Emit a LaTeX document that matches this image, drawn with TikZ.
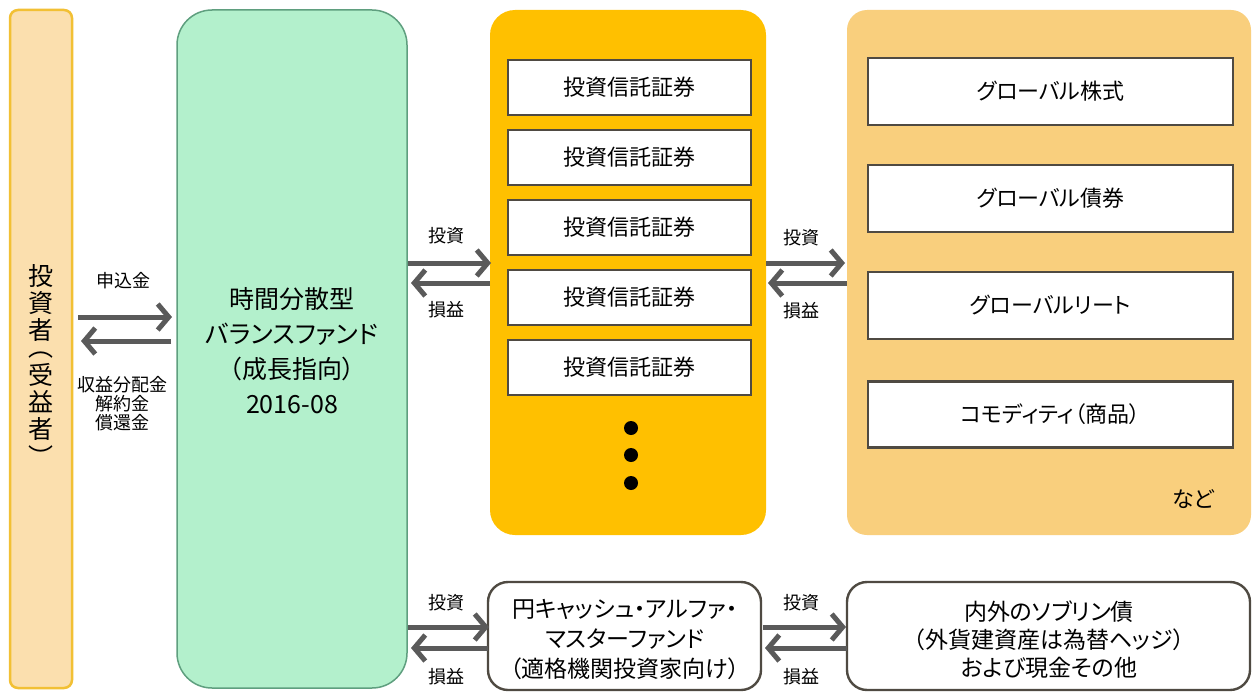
\documentclass[tikz,border=0pt]{standalone}
\usepackage{fontspec}
\setmainfont{Noto Sans CJK JP}[RawFeature=+palt]
\usetikzlibrary{arrows.meta}
\definecolor{invfill}{HTML}{FBDFAE}
\definecolor{invdraw}{HTML}{F2C034}
\definecolor{grfill}{HTML}{B3F0CC}
\definecolor{grdraw}{HTML}{5F9F7F}
\definecolor{orfill}{HTML}{FFC000}
\definecolor{ltor}{HTML}{F9CF7D}
\definecolor{bxdraw}{HTML}{4F4A42}
\definecolor{argray}{HTML}{5A5A5A}
\begin{document}
\begin{tikzpicture}[x=1pt,y=-1pt,
  panel/.style={anchor=north west,inner sep=0pt,outer sep=0pt},
  itembox/.style={draw=bxdraw,line width=2.6pt,fill=white,minimum width=#1,minimum height=55pt,inner sep=0pt,font=\fontsize{22}{26}\selectfont},
  rbox/.style={panel,draw=bxdraw,line width=2.4pt,fill=white,rounded corners=20pt,align=center},
  arr/.style={draw=argray,line width=5pt,-{Straight Barb[length=11pt,width=26pt]}},
  lbl/.style={font=\fontsize{18}{19}\selectfont,align=center,inner sep=0pt},
  vch/.style={font=\fontsize{25}{27}\selectfont,inner sep=0pt},
  dot/.style={circle,fill=black,minimum size=14pt,inner sep=0pt}]
\useasboundingbox (0,0) rectangle (1253,693);
\fill[white] (0,0) rectangle (1253,693);
% panels
\node[panel,draw=invdraw,fill=invfill,line width=2.5pt,rounded corners=8pt,minimum width=62pt,minimum height=678pt] (inv) at (10,10) {};
\node[vch] (v1) at (41,276) {投};
\node[vch] (v2) at (41,303) {資};
\node[vch] (v3) at (41,330) {者};
\node[vch,rotate=-90] (v4) at (41,352) {（};
\node[vch] (v5) at (41,375) {受};
\node[vch] (v6) at (41,402) {益};
\node[vch] (v7) at (41,429) {者};
\node[vch,rotate=-90] (v8) at (41,452) {）};
\node[panel,draw=grdraw,fill=grfill,line width=1.5pt,rounded corners=35pt,minimum width=230pt,minimum height=678pt] (fund) at (177,10) {};
\node[align=center,font=\fontsize{25}{35}\selectfont,inner sep=0pt] (fundtxt) at (292,351) {時間分散型\\バランスファンド\\（成長指向）\\2016-08};
\node[panel,fill=orfill,rounded corners=25pt,minimum width=276pt,minimum height=525pt] (trust) at (490,10) {};
\node[panel,fill=ltor,rounded corners=20pt,minimum width=404pt,minimum height=525pt] (assets) at (847,10) {};
% trust items
\node[itembox=243pt] (t1) at (629.5,87.5) {投資信託証券};
\node[itembox=243pt] (t2) at (629.5,157.5) {投資信託証券};
\node[itembox=243pt] (t3) at (629.5,227.5) {投資信託証券};
\node[itembox=243pt] (t4) at (629.5,297.5) {投資信託証券};
\node[itembox=243pt] (t5) at (629.5,367.5) {投資信託証券};
\node[dot] (d1) at (631,428) {};
\node[dot] (d2) at (631,455) {};
\node[dot] (d3) at (631,483) {};
% asset items
\node[itembox=365pt,minimum height=67pt] (a1) at (1050.5,91.5) {グローバル株式};
\node[itembox=365pt,minimum height=67pt] (a2) at (1050.5,198.5) {グローバル債券};
\node[itembox=365pt,minimum height=67pt] (a3) at (1050.5,305.5) {グローバルリート};
\node[itembox=365pt,minimum height=66pt] (a4) at (1050.5,414.5) {コモディティ（商品）};
\node[font=\fontsize{22}{26}\selectfont,inner sep=0pt] (nado) at (1193,499) {など};
% bottom boxes
\node[rbox,minimum width=273pt,minimum height=108pt] (master) at (488,582) {};
\node[align=center,font=\fontsize{23}{30}\selectfont,inner sep=0pt] (mtxt) at (625,640) {円キャッシュ・アルファ・\\マスターファンド\\（適格機関投資家向け）};
\node[rbox,minimum width=403pt,minimum height=108pt] (sov) at (847,582) {};
\node[align=center,font=\fontsize{23}{28}\selectfont,inner sep=0pt] (stxt) at (1049,640) {内外のソブリン債\\（外貨建資産は為替ヘッジ）\\および現金その他};
% arrows left
\draw[arr,shorten <=6pt,shorten >=5pt] (inv.east |- 0,317) -- (fund.west |- 0,317);
\draw[arr,shorten <=6pt,shorten >=9pt] (fund.west |- 0,341) -- (inv.east |- 0,341);
\node[lbl] (l1) at (123,281) {申込金};
\node[lbl] (l2) at (122,404) {収益分配金\\解約金\\償還金};
% arrows fund-trust
\draw[arr,shorten <=1pt,shorten >=-1pt] (fund.east |- 0,263) -- (trust.west |- 0,263);
\draw[arr,shorten <=0pt,shorten >=4pt] (trust.west |- 0,283) -- (fund.east |- 0,283);
\node[lbl] (l3) at (446,236) {投資};
\node[lbl] (l4) at (446,310) {損益};
% arrows trust-assets
\draw[arr,shorten >=2pt] (trust.east |- 0,263) -- (assets.west |- 0,263);
\draw[arr,shorten >=2pt] (assets.west |- 0,283) -- (trust.east |- 0,283);
\node[lbl] (l5) at (801,238) {投資};
\node[lbl] (l6) at (801,311) {損益};
% bottom arrows
\draw[arr,shorten <=1pt,shorten >=-1pt] (fund.east |- 0,627) -- (master.west |- 0,627);
\draw[arr,shorten >=4pt] (master.west |- 0,648) -- (fund.east |- 0,648);
\node[lbl] (l7) at (446,603) {投資};
\node[lbl] (l8) at (446,677) {損益};
\draw[arr,shorten <=2pt,shorten >=1pt] (master.east |- 0,627) -- (sov.west |- 0,627);
\draw[arr,shorten >=4pt] (sov.west |- 0,648) -- (master.east |- 0,648);
\node[lbl] (l9) at (801,603) {投資};
\node[lbl] (l10) at (801,677) {損益};
\end{tikzpicture}
\end{document}
